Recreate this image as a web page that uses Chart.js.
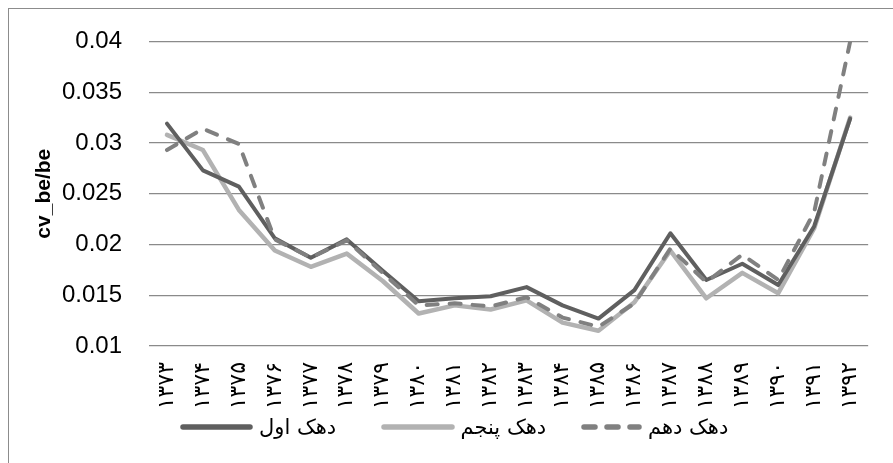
<!DOCTYPE html>
<html>
<head>
<meta charset="utf-8">
<script src="https://cdn.jsdelivr.net/npm/chart.js@4"></script>
<style>
    html, body { margin: 0; padding: 0; background: #fff; overflow: hidden; }
    #wrap { position: relative; width: 893px; height: 463px; }
    #frame { position: absolute; left: 8px; top: 8px; width: 2000px; height: 2000px; border: 1px solid #8c8c8c; }
    #chart { position: absolute; left: 0; top: 0; }
    #legend { position: absolute; left: 180px; top: 416px; height: 22px; display: flex; align-items: center; }
    .item { width: 200.5px; display: flex; align-items: center; }
    .item span { font: 21px 'DejaVu Sans', sans-serif; color: #000; margin-left: 6px; white-space: nowrap; }
</style>
</head>
<body>
<div id="wrap">
    <div id="frame"></div>
    <canvas id="chart" width="893" height="463"></canvas>
    <div id="legend"></div>
</div>
<script>
const YEARS = ['۱۳۷۳','۱۳۷۴','۱۳۷۵','۱۳۷۶','۱۳۷۷','۱۳۷۸','۱۳۷۹','۱۳۸۰','۱۳۸۱','۱۳۸۲',
               '۱۳۸۳','۱۳۸۴','۱۳۸۵','۱۳۸۶','۱۳۸۷','۱۳۸۸','۱۳۸۹','۱۳۹۰','۱۳۹۱','۱۳۹۲'];

const SERIES_NAMES = ['دهک اول', 'دهک پنجم', 'دهک دهم'];

const DECILE_1  = [0.0319, 0.0273, 0.0257, 0.0206, 0.0187, 0.0205, 0.0174, 0.0144, 0.0147, 0.0149,
                   0.0158, 0.0140, 0.0127, 0.0155, 0.0211, 0.0165, 0.0181, 0.0160, 0.0218, 0.0324];
const DECILE_5  = [0.0308, 0.0293, 0.0234, 0.0194, 0.0178, 0.0191, 0.0164, 0.0132, 0.0140, 0.0136,
                   0.0145, 0.0123, 0.0115, 0.0143, 0.0194, 0.0147, 0.0172, 0.0152, 0.0216, 0.0325];
const DECILE_10 = [0.0293, 0.0314, 0.0299, 0.0205, 0.0187, 0.0204, 0.0172, 0.0140, 0.0142, 0.0139,
                   0.0148, 0.0128, 0.0119, 0.0142, 0.0196, 0.0163, 0.0190, 0.0165, 0.0232, 0.0400];

const Y_MIN = 0.01, Y_MAX = 0.04, Y_STEP = 0.005;
const Y_TITLE = 'cv_be/be';

const STYLES = [
    { color: '#5f5f5f', width: 4,   dash: [],       order: 1, legendW: 73 },
    { color: '#b2b2b2', width: 4.5, dash: [],       order: 2, legendW: 74 },
    { color: '#808080', width: 4,   dash: [11, 12], order: 0, legendW: 61 },
];

function buildLegend(containerId, items) {
    const el = document.getElementById(containerId);
    if (!el) return;
    el.innerHTML = items.map(i =>
        `<div class="item">
            <svg width="${i.legendW}" height="8"><line x1="3" y1="4" x2="${i.legendW - 3}" y2="4"
                stroke="${i.color}" stroke-width="5.5" stroke-linecap="round"
                ${i.dash.length ? `stroke-dasharray="${i.dash.join(' ')}"` : ''}/></svg>
            <span>${i.label}</span>
         </div>`
    ).join('');
}

const values = [DECILE_1, DECILE_5, DECILE_10];

buildLegend('legend', SERIES_NAMES.map((label, i) => ({ label, ...STYLES[i] })));

new Chart(document.getElementById('chart'), {
    type: 'line',
    data: {
        labels: YEARS,
        datasets: SERIES_NAMES.map((label, i) => ({
            label,
            data: values[i],
            borderColor: STYLES[i].color,
            borderWidth: STYLES[i].width,
            borderDash: STYLES[i].dash,
            borderCapStyle: 'round',
            borderJoinStyle: 'round',
            order: STYLES[i].order,
            pointRadius: 0,
            tension: 0,
            fill: false,
        })),
    },
    options: {
        responsive: false,
        animation: false,
        layout: { padding: { top: 39, right: 17, bottom: 0, left: 0 } },
        plugins: { legend: { display: false }, tooltip: { enabled: false } },
        scales: {
            x: {
                offset: true,
                grid: { display: false, drawTicks: false },
                border: { display: false },
                ticks: {
                    autoSkip: false, minRotation: 90, maxRotation: 90, padding: 16,
                    color: '#000', font: { family: "'DejaVu Sans'", size: 22 },
                },
                afterFit: s => { s.height = 117; },
            },
            y: {
                min: Y_MIN, max: Y_MAX,
                grid: { color: '#8a8a8a', lineWidth: 1.3, drawTicks: false },
                border: { display: false },
                ticks: {
                    stepSize: Y_STEP, padding: 27, color: '#000',
                    font: { family: "'Liberation Sans'", size: 24 },
                    callback: v => String(+v.toFixed(3)),
                },
                title: {
                    display: true, text: Y_TITLE, color: '#000',
                    font: { family: "'Liberation Sans'", size: 21, weight: 'bold' },
                    padding: { top: 32, bottom: 0 },
                },
                afterFit: s => { s.width = 149; },
            },
        },
    },
});
</script>
</body>
</html>
